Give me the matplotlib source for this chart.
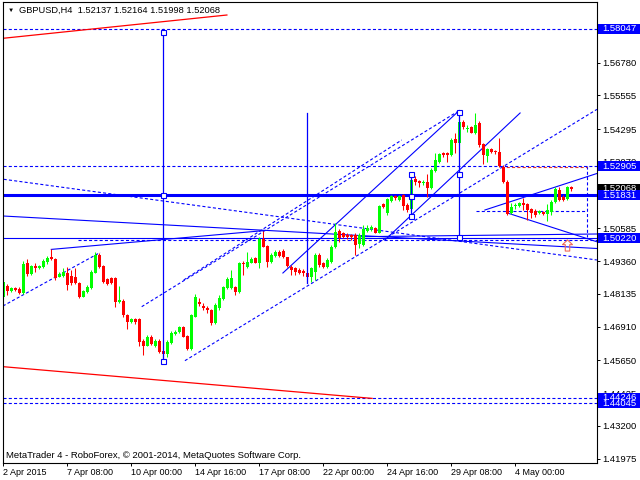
import numpy as np
import matplotlib
matplotlib.use('Agg')
from matplotlib import pyplot as plt
from matplotlib.patches import Rectangle
from matplotlib.path import Path

plt.rcParams['font.family'] = ['Liberation Sans', 'DejaVu Sans']
plt.rcParams['lines.scale_dashes'] = False

# GBPUSD H4 candles (open, high, low, close)
opens = [1.4803, 1.4843, 1.4826, 1.4835, 1.4831, 1.4818, 1.4928, 1.4888, 1.4919, 1.4912,
         1.4915, 1.4932, 1.4950, 1.4943, 1.4878, 1.4881, 1.4893, 1.4881, 1.4878, 1.4856,
         1.4803, 1.4822, 1.4835, 1.4893, 1.4959, 1.4918, 1.4868, 1.4874, 1.4874, 1.4785,
         1.4788, 1.4735, 1.4710, 1.4719, 1.4719, 1.4639, 1.4619, 1.4654, 1.4617, 1.4639,
         1.4601, 1.4589, 1.4629, 1.4664, 1.4672, 1.4689, 1.4656, 1.4608, 1.4729, 1.4785,
         1.4768, 1.4760, 1.4754, 1.4704, 1.4760, 1.4793, 1.4835, 1.4835, 1.4838, 1.4822,
         1.4930, 1.4915, 1.4930, 1.4946, 1.4930, 1.5018, 1.4993, 1.4934, 1.4955, 1.4972,
         1.4975, 1.4950, 1.4915, 1.4909, 1.4903, 1.4900, 1.4893, 1.4878, 1.4897, 1.4959,
         1.4928, 1.4916, 1.4934, 1.4990, 1.5049, 1.5040, 1.5034, 1.5034, 1.5034, 1.5000,
         1.4997, 1.5050, 1.5055, 1.5059, 1.5043, 1.5150, 1.5115, 1.5162, 1.5180, 1.5165,
         1.5183, 1.5146, 1.5130, 1.5242, 1.5237, 1.5227, 1.5233, 1.5208, 1.5274, 1.5308,
         1.5342, 1.5341, 1.5333, 1.5391, 1.5377, 1.5456, 1.5429, 1.5436, 1.5414, 1.5454,
         1.5374, 1.5329, 1.5354, 1.5349, 1.5345, 1.5289, 1.5233, 1.5115, 1.5142, 1.5142,
         1.5152, 1.5150, 1.5130, 1.5125, 1.5117, 1.5121, 1.5112, 1.5121, 1.5158, 1.5202,
         1.5177, 1.5167, 1.52137]
highs = [1.4868, 1.4851, 1.4838, 1.4838, 1.4838, 1.4937, 1.4943, 1.4922, 1.4928, 1.4923,
         1.4943, 1.4957, 1.4980, 1.4946, 1.4897, 1.4909, 1.4915, 1.4903, 1.4909, 1.4859,
         1.4828, 1.4847, 1.4903, 1.4972, 1.4968, 1.4922, 1.4872, 1.4878, 1.4878, 1.4843,
         1.4793, 1.4737, 1.4722, 1.4724, 1.4722, 1.4644, 1.4661, 1.4659, 1.4644, 1.4644,
         1.4641, 1.4641, 1.4676, 1.4679, 1.4694, 1.4694, 1.4661, 1.4739, 1.4813, 1.4800,
         1.4778, 1.4768, 1.4759, 1.4778, 1.4810, 1.4843, 1.4876, 1.4903, 1.4843, 1.4934,
         1.4938, 1.4972, 1.4950, 1.4950, 1.5025, 1.5050, 1.4996, 1.4965, 1.4978, 1.4978,
         1.4980, 1.4953, 1.4922, 1.4915, 1.4909, 1.4906, 1.4897, 1.4915, 1.4965, 1.4965,
         1.4934, 1.4947, 1.4996, 1.5078, 1.5055, 1.5046, 1.5040, 1.5038, 1.5040, 1.5040,
         1.5071, 1.5071, 1.5071, 1.5065, 1.5146, 1.5155, 1.5171, 1.5183, 1.5183, 1.5185,
         1.5187, 1.5152, 1.5254, 1.5254, 1.5240, 1.5240, 1.5262, 1.5283, 1.5339, 1.5342,
         1.5345, 1.5345, 1.5395, 1.5414, 1.5495, 1.5464, 1.5445, 1.5441, 1.5489, 1.5461,
         1.5379, 1.5358, 1.5358, 1.5352, 1.5395, 1.5294, 1.5240, 1.5155, 1.5155, 1.5158,
         1.5171, 1.5155, 1.5134, 1.5130, 1.5127, 1.5125, 1.5150, 1.5165, 1.5212, 1.5212,
         1.5182, 1.5217, 1.52164]
lows = [1.4796, 1.4810, 1.4821, 1.4825, 1.4813, 1.4813, 1.4881, 1.4886, 1.4897, 1.4908,
        1.4910, 1.4927, 1.4939, 1.4866, 1.4876, 1.4878, 1.4828, 1.4847, 1.4851, 1.4797,
        1.4801, 1.4818, 1.4831, 1.4891, 1.4909, 1.4853, 1.4847, 1.4849, 1.4764, 1.4781,
        1.4729, 1.4681, 1.4706, 1.4701, 1.4619, 1.4584, 1.4617, 1.4624, 1.4614, 1.4594,
        1.4570, 1.4579, 1.4626, 1.4660, 1.4669, 1.4651, 1.4604, 1.4604, 1.4726, 1.4768,
        1.4754, 1.4741, 1.4698, 1.4700, 1.4754, 1.4791, 1.4831, 1.4831, 1.4810, 1.4818,
        1.4884, 1.4912, 1.4928, 1.4928, 1.4909, 1.4988, 1.4915, 1.4930, 1.4953, 1.4950,
        1.4946, 1.4915, 1.4884, 1.4884, 1.4888, 1.4881, 1.4853, 1.4859, 1.4866, 1.4916,
        1.4909, 1.4912, 1.4928, 1.4984, 1.5009, 1.5021, 1.5018, 1.5015, 1.4959, 1.4984,
        1.4993, 1.5046, 1.5050, 1.5040, 1.5040, 1.5134, 1.5109, 1.5159, 1.5165, 1.5162,
        1.5127, 1.5121, 1.5125, 1.5221, 1.5212, 1.5221, 1.5177, 1.5205, 1.5271, 1.5304,
        1.5327, 1.5308, 1.5329, 1.5342, 1.5371, 1.5429, 1.5420, 1.5414, 1.5411, 1.5364,
        1.5299, 1.5308, 1.5339, 1.5337, 1.5289, 1.5229, 1.5109, 1.5111, 1.5130, 1.5137,
        1.5127, 1.5090, 1.5096, 1.5102, 1.5112, 1.5109, 1.5087, 1.5109, 1.5155, 1.5162,
        1.5161, 1.5165, 1.51998]
closes = [1.4859, 1.4826, 1.4835, 1.4828, 1.4818, 1.4925, 1.4888, 1.4919, 1.4912, 1.4919,
          1.4938, 1.4949, 1.4943, 1.4872, 1.4888, 1.4897, 1.4847, 1.4853, 1.4853, 1.4801,
          1.4826, 1.4841, 1.4897, 1.4959, 1.4915, 1.4859, 1.4851, 1.4853, 1.4785, 1.4791,
          1.4735, 1.4710, 1.4719, 1.4709, 1.4635, 1.4619, 1.4654, 1.4626, 1.4639, 1.4598,
          1.4589, 1.4635, 1.4669, 1.4672, 1.4689, 1.4654, 1.4608, 1.4735, 1.4803, 1.4776,
          1.4760, 1.4754, 1.4704, 1.4772, 1.4797, 1.4838, 1.4868, 1.4872, 1.4822, 1.4928,
          1.4925, 1.4934, 1.4943, 1.4930, 1.5018, 1.4990, 1.4934, 1.4959, 1.4972, 1.4955,
          1.4950, 1.4918, 1.4903, 1.4897, 1.4893, 1.4890, 1.4878, 1.4909, 1.4959, 1.4922,
          1.4916, 1.4940, 1.4990, 1.5046, 1.5021, 1.5028, 1.5025, 1.5025, 1.4997, 1.5034,
          1.5055, 1.5059, 1.5063, 1.5043, 1.5142, 1.5137, 1.5167, 1.5180, 1.5171, 1.5181,
          1.5142, 1.5127, 1.5240, 1.5233, 1.5227, 1.5233, 1.5208, 1.5277, 1.5314, 1.5337,
          1.5333, 1.5334, 1.5389, 1.5377, 1.5458, 1.5436, 1.5434, 1.5416, 1.5445, 1.5370,
          1.5333, 1.5354, 1.5344, 1.5344, 1.5292, 1.5233, 1.5112, 1.5137, 1.5146, 1.5152,
          1.5146, 1.5127, 1.5117, 1.5109, 1.5122, 1.5112, 1.5127, 1.5158, 1.5205, 1.5165,
          1.5165, 1.5212, 1.52068]

price_ticks = [1.56780, 1.55555, 1.54295, 1.53070, 1.51845, 1.50585, 1.49360,
               1.48135, 1.46910, 1.45650, 1.44425, 1.43200, 1.41975]
# 1.51845 sits fully under the price boxes, so its label stays empty
price_tick_labels = ['1.56780', '1.55555', '1.54295', '1.53070', '', '1.50585', '1.49360',
                     '1.48135', '1.46910', '1.45650', '1.44425', '1.43200', '1.41975']
date_ticks = [0, 16, 32, 48, 64, 80, 96, 112, 128]
date_labels = ['2 Apr 2015', '7 Apr 08:00', '10 Apr 00:00', '14 Apr 16:00', '17 Apr 08:00',
               '22 Apr 00:00', '24 Apr 16:00', '29 Apr 08:00', '4 May 00:00']

# horizontal levels: (price, style, width)
levels = [(1.58047, 'dash', 0.8), (1.52905, 'dash', 0.8), (1.51831, 'solid', 2.2),
          (1.50220, 'solid', 0.8), (1.44246, 'dash', 0.8), (1.44045, 'dash', 0.8)]
# right side price boxes (price, text, colour), drawn in this order
price_boxes = [(1.58047, '1.58047', '#0000FF'), (1.52905, '1.52905', '#0000FF'),
               (1.52068, '1.52068', '#000000'), (1.51831, '1.51831', '#0000FF'),
               (1.50220, '1.50220', '#0000FF'), (1.44045, '1.44045', '#0000FF'),
               (1.44246, '1.44246', '#0000FF')]

# trend lines as (bar, price) end points
red_lines = [[(-0.1, 1.57692), (55.9, 1.58563)],
             [(0.0, 1.45415), (92.2, 1.44230)]]
solid_lines = [[(-0.1, 1.51049), (148.4, 1.49834)],
               [(12, 1.4980), (65, 1.5050)],
               [(89.2, 1.50275), (148.4, 1.50376)],
               [(126.25, 1.51150), (148.35, 1.50088)],
               [(120.4, 1.51273), (148.4, 1.52638)],
               [(69.9, 1.48918), (114, 1.54993)],
               [(95.4, 1.50151), (129.2, 1.54900)]]
dashed_lines = [[(0.1, 1.52421), (148.4, 1.49404)],
                [(34.6, 1.47658), (114, 1.54992)],
                [(45.4, 1.45639), (148.4, 1.55034)],
                [(45.1, 1.48656), (99.6, 1.53890)],
                [(-0.1, 1.47684), (24.2, 1.49684)],
                [(18.7, 1.50170), (148.4, 1.50170)],
                [(118.2, 1.51254), (145.9, 1.51254)],
                [(145.9, 1.52905), (145.9, 1.50264)]]
red_dashed = [[(124.4, 1.52892), (145.9, 1.52892)]]
# vertical measuring lines: bar, top, bottom, square markers
verticals = [(40, 1.58047, 1.4565, [1.5794, 1.51831, 1.4563]),
             (76, 1.5490, 1.4853, []),
             (114, 1.5495, 1.5025, [1.5495, 1.5262, 1.5025]),
             (102, 1.5262, 1.5105, [1.5262, 1.5181, 1.5105])]
arrow_pos = (140.8, 1.4998)

BLUE = '#0000FF'
DASH = (0, (2.2, 1.6))

fig = plt.figure(figsize=(6.4, 4.8), dpi=100)
ax = fig.add_axes([2.7 / 640, 17.3 / 480, 594 / 640, 460.7 / 480])
ax.set_xlim(-0.15, 148.35)
ax.set_ylim(1.418256, 1.590493)

o = np.array(opens); h = np.array(highs); l = np.array(lows); c = np.array(closes)
x = np.arange(len(o))
cols = np.where(c >= o, '#00FF00', '#FF0000')

# horizontal levels
for p, st, w in levels:
    ax.axhline(p, color=BLUE, lw=w, ls=DASH if st == 'dash' else '-', zorder=1)

for seg in red_lines:
    ax.plot([seg[0][0], seg[1][0]], [seg[0][1], seg[1][1]], color='#FF0000', lw=0.9, zorder=1)
for seg in solid_lines:
    ax.plot([seg[0][0], seg[1][0]], [seg[0][1], seg[1][1]], color=BLUE, lw=0.8, zorder=1)
for seg in dashed_lines:
    ax.plot([seg[0][0], seg[1][0]], [seg[0][1], seg[1][1]], color=BLUE, lw=0.8, ls=DASH, zorder=1)
for seg in red_dashed:
    ax.plot([seg[0][0], seg[1][0]], [seg[0][1], seg[1][1]], color='#E03030', lw=0.8, ls=DASH, zorder=1.5)

# candles
ax.vlines(x, l, h, colors=cols, lw=0.75, zorder=2)
ax.bar(x, np.maximum(np.abs(c - o), 0.00008), bottom=np.minimum(o, c), width=0.78,
       color=cols, lw=0, zorder=2)

for xi, top, bot, marks in verticals:
    ax.plot([xi, xi], [top, bot], color=BLUE, lw=0.9, zorder=3)
    if marks:
        ax.plot([xi] * len(marks), marks, ls='none', marker='s', ms=3.6, mew=0.8,
                mfc='white', mec=BLUE, zorder=4)

arrow = Path([(0, 1), (0.9, 0.15), (0.4, 0.15), (0.4, -1), (-0.4, -1), (-0.4, 0.15),
              (-0.9, 0.15), (0, 1)], closed=True)
ax.plot([arrow_pos[0]], [arrow_pos[1]], ls='none', marker=arrow, ms=8, mfc='none',
        mec='#F06A5A', mew=0.8, zorder=4)

# axes look
for s in ax.spines.values():
    s.set_color('black')
    s.set_linewidth(0.8)
ax.yaxis.tick_right()
ax.set_yticks(price_ticks)
ax.set_yticklabels(price_tick_labels)
ax.tick_params(axis='y', length=2.5, width=0.7, pad=1.5, labelsize=6.8, colors='black')
ax.set_xticks(date_ticks)
ax.set_xticklabels(date_labels, ha='left')
ax.tick_params(axis='x', length=2.5, width=0.7, pad=1.5, labelsize=6.5, colors='black')

# price boxes on the right
bx = ax.get_yaxis_transform()
box_h = 10 * (1.590493 - 1.418256) / 460.7
for p, txt, fc in price_boxes:
    ax.add_patch(Rectangle((1.0015, p - box_h / 2), 43 / 594, box_h, transform=bx,
                           facecolor=fc, edgecolor='none', clip_on=False, zorder=5))
    ax.text(1.0 + 6 / 594, p, txt, transform=bx, color='white', fontsize=6.8,
            ha='left', va='center', clip_on=False, zorder=6)

fig.text(11 / 640, 1 - 10.5 / 480, '\u25bc', fontsize=4.5, ha='center', va='center', color='black')
fig.text(19 / 640, 1 - 10 / 480, 'GBPUSD,H4  1.52137 1.52164 1.51998 1.52068', fontsize=6.7,
         ha='left', va='center', color='black')
fig.text(6 / 640, 1 - 456 / 480, 'MetaTrader 4 - RoboForex, \u00a9 2001-2014, MetaQuotes Software Corp.',
         fontsize=6.8, ha='left', va='center', color='black')

fig.savefig('out.png', dpi=100, facecolor='white')
